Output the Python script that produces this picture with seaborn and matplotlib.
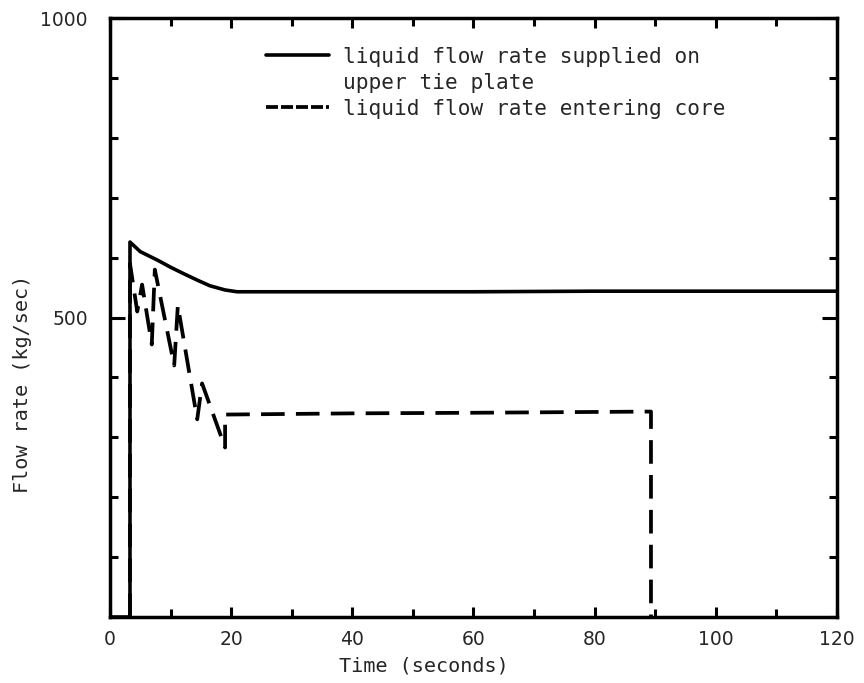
import matplotlib
matplotlib.use("Agg")
import matplotlib.pyplot as plt
import seaborn as sns
import pandas as pd
from matplotlib.lines import Line2D
from matplotlib.ticker import FixedLocator, MultipleLocator

# ---- data ----
time_supplied = [0, 3.3, 3.3, 5.0, 7.8, 10.0, 12.2, 14.5, 16.5, 19.0, 21.0, 40, 60, 80, 100, 120]
flow_supplied = [0, 0, 626, 610, 596, 584, 573, 562, 553, 546, 543, 543, 543, 544, 544, 544]

time_core = [3.3, 3.3, 4.5, 5.3, 6.9, 7.4, 10.6, 11.2, 14.4, 15.2, 19.0, 19.0, 40, 60, 89.3, 89.3]
flow_core = [0, 590, 510, 555, 455, 580, 420, 520, 330, 390, 283, 338, 340, 341, 343, 0]

label_supplied = "liquid flow rate supplied on"
label_supplied_2 = "upper tie plate"
label_core = "liquid flow rate entering core"

x_ticks = [0, 20, 40, 60, 80, 100, 120]
y_ticks = [500, 1000]
x_label = "Time (seconds)"
y_label = "Flow rate (kg/sec)"

sns.set_style("ticks")
plt.rcParams["font.family"] = ["DejaVu Sans Mono", "DejaVu Sans"]

fig = plt.figure(figsize=(8.64, 6.83), dpi=100)
ax = fig.add_axes([0.1273, 0.0966, 0.8414, 0.877])

df_s = pd.DataFrame({"t": time_supplied, "q": flow_supplied})
df_c = pd.DataFrame({"t": time_core, "q": flow_core})

sns.lineplot(data=df_s, x="t", y="q", sort=False, estimator=None,
             color="black", linewidth=2.6, ax=ax)
sns.lineplot(data=df_c, x="t", y="q", sort=False, estimator=None,
             color="black", linewidth=2.7, ax=ax)
ax.lines[-1].set_dashes([6.3, 3.0])

ax.set_xlim(0, 120)
ax.set_ylim(0, 1000)

for sp in ax.spines.values():
    sp.set_visible(True)
    sp.set_linewidth(2.5)
    sp.set_color("black")

ax.xaxis.set_major_locator(FixedLocator(x_ticks))
ax.xaxis.set_minor_locator(MultipleLocator(10))
ax.yaxis.set_major_locator(FixedLocator(y_ticks))
ax.yaxis.set_minor_locator(MultipleLocator(100))

ax.tick_params(axis="both", which="both", direction="in", top=True, right=True,
               color="black", width=2.2)
ax.tick_params(axis="x", which="major", length=7, pad=9, labelsize=13.5)
ax.tick_params(axis="x", which="minor", length=6)
ax.tick_params(axis="y", which="major", length=11, pad=16, labelsize=13.5)
ax.tick_params(axis="y", which="minor", length=6)
for lab in ax.get_xticklabels() + ax.get_yticklabels():
    lab.set_fontfamily("DejaVu Sans")

ax.set_xlabel(x_label, fontsize=14.5)
ax.set_ylabel(y_label, fontsize=14.5)
ax.xaxis.set_label_coords(0.432, -0.066)
ax.yaxis.set_label_coords(-0.107, 0.39)

handles = [Line2D([], [], color="black", linewidth=2.6),
           Line2D([], [], color="none"),
           Line2D([], [], color="black", linewidth=2.7, dashes=[3.2, 0.8])]
ax.legend(handles, [label_supplied, label_supplied_2, label_core],
          loc="upper left", bbox_to_anchor=(0.214, 0.952), frameon=False,
          fontsize=15.2, handlelength=3.0, handletextpad=0.65,
          labelspacing=0.28, borderaxespad=0, borderpad=0)

fig.savefig("out.png", dpi=100, facecolor="white")
